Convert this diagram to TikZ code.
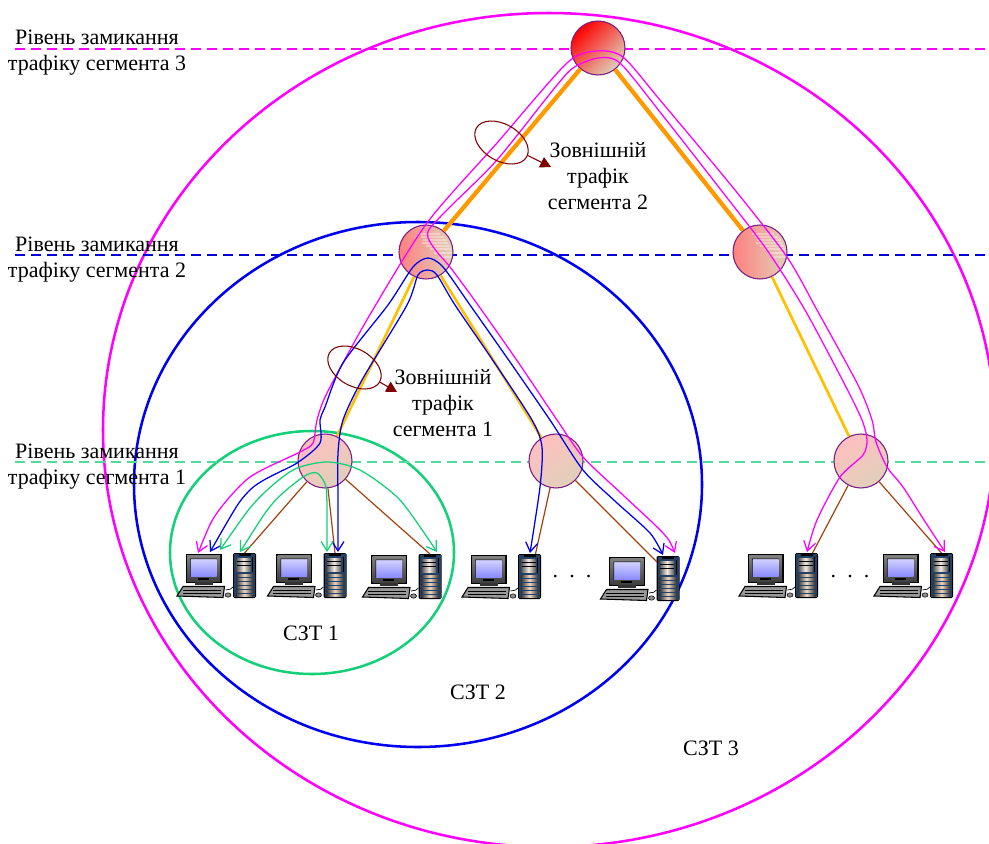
\documentclass[tikz,border=0pt]{standalone}
\usepackage{fontspec}
\setmainfont{Liberation Serif}
\usetikzlibrary{arrows.meta,positioning,shapes.geometric}
\definecolor{magLine}{RGB}{255,0,255}
\definecolor{bluLine}{RGB}{0,0,240}
\definecolor{grnLine}{RGB}{20,208,120}
\definecolor{ordLine}{RGB}{255,153,0}
\definecolor{yelLine}{RGB}{255,192,0}
\definecolor{brnLine}{RGB}{165,65,15}
\definecolor{rimLine}{RGB}{120,30,130}
\definecolor{loopLine}{RGB}{125,0,0}
\definecolor{towerBlue}{RGB}{35,65,100}
\definecolor{swTan}{RGB}{224,208,186}
\tikzstyle{lbl} = [align=center, inner sep=0, font=\fontsize{16.5}{19.5}\selectfont]
\tikzstyle{sw} = [circle, draw=rimLine, line width=0.8pt, minimum size=40.5pt, inner sep=0]
\tikzstyle{swTop} = [sw, top color=red, bottom color=swTan, shading angle=45]
\tikzstyle{swMid} = [sw, left color=red!50, right color=swTan]
\tikzstyle{swLow} = [sw, top color=red!25, bottom color=swTan, shading angle=35]
\tikzstyle{zone} = [line width=1.9pt]
\tikzstyle{lvl} = [dash pattern=on 7.5pt off 4.5pt]
\tikzstyle{tr} = [line width=0.95pt, smooth, tension=0.45, {Straight Barb[length=7pt,width=9pt]}-{Straight Barb[length=7pt,width=9pt]}]
\tikzstyle{loopy} = [ellipse, draw=loopLine, line width=0.8pt, inner sep=0, minimum width=43.5pt, minimum height=27.5pt, rotate=-30]
\tikzstyle{loopArrow} = [draw=loopLine, line width=0.8pt, -{Triangle[length=8pt,width=8.5pt]}]
\tikzset{
	pcunit/.pic={
		% monitor
		\fill[black] (-59,1) rectangle (-23,29.5);
		\shade[top color=black!50, bottom color=black!75] (-57.5,2.5) rectangle (-24.5,28);
		\shade[top color=blue!18, bottom color=blue!45] (-54,6) rectangle (-28,23);
		\fill[black] (-54.5,5.5) -- (-27.5,5.5) -- (-27.5,6) -- (-54,6) -- (-54,23.5) -- (-54.5,23.5) -- cycle;
		\fill[black] (-47,25) rectangle (-36,26.5);
		\fill[black!80] (-50,29) rectangle (-32,32);
		% keyboard
		\fill[black!40, draw=black, line width=0.8pt] (-67.5,43) -- (-61.5,33.5) -- (-20,33.5) -- (-21.5,44.5) -- cycle;
		\foreach \i in {37,40} \draw[black, line width=0.6pt] (-62,\i) -- (-24,\i);
		% mouse
		\draw[black, line width=0.5pt] (-19,37) .. controls (-15,36) and (-13,37) .. (-11.5,34);
		\fill[black!45, draw=black, line width=0.4pt] (-16.5,42) ellipse [x radius=3, y radius=2.2];
		% tower
		\fill[black, rounded corners=1pt] (-11.5,0) rectangle (11.5,45);
		\fill[towerBlue] (-10.5,1) rectangle (10.5,44);
		\fill[black] (-6,0.5) rectangle (6,3);
		\shade[left color=black!65, right color=black!65, middle color=white!85!brown] (-8,5) rectangle (6,18);
		\foreach \i in {8.5,12} \draw[black, line width=0.6pt] (-8,\i) -- (6,\i);
		\foreach \i in {21,25,...,41} \shade[left color=black!80, right color=black!80, middle color=white!70!brown] (-8.5,\i) rectangle (8.5,\i+2.2);
		\draw[black, line width=0.7pt] (8,4) -- (8,19);
		% connection points
		\coordinate (-top) at (0,0);
		\coordinate (-right) at (6,0);
		\coordinate (-side) at (-11,6);
	},
	swstripes/.pic={
		% pale bands of the fill
		\foreach \i/\a/\b in {-18/-8/14,-15/-5/18,-12/-3/21,-9/-4/22,-6/0/24,-3/4/25,1/8/26,5/14/25} \draw[white, opacity=0.35, line width=0.8pt] (\a,\i) -- (\b,\i);
	}
}
\begin{document}
\begin{tikzpicture}[x=0.75pt,y=-0.75pt]
		\useasboundingbox (0,0) rectangle (989,843);
		\clip (0,0) rectangle (989,843);
		% zones
		\draw[zone,magLine] (549,430) ellipse [x radius=446, y radius=417];
		\draw[zone,bluLine] (418,484.5) ellipse [x radius=284, y radius=262.5];
		\draw[zone,grnLine] (312,552.5) ellipse [x radius=142, y radius=121.5];
		
		% dashed levels
		\coordinate (d3a) at (15,49);
		\coordinate (d3b) at (985,49);
		\coordinate (d2a) at (15,255);
		\coordinate (d2b) at (985,255);
		\coordinate (d1a) at (15,462);
		\coordinate (d1b) at (985,462);
		\draw[lvl,magLine,line width=0.9pt] (d3a) -- (d3b);
		\draw[lvl,blue!85!black,line width=0.9pt] (d2a) -- (d2b);
		\draw[lvl,grnLine!75!white,line width=1.2pt] (d1a) -- (d1b);
		
		% nodes
		\node[swTop] (n3) at (598,48) {};								% top switch
		\node[swMid] (n2l) at (426,252) {};
		\node[swMid,right of=n2l,node distance=250.5pt] (n2r) {};
		\node[swLow] (n1a) at (325,461) {};
		\node[swLow,right of=n1a,node distance=173.25pt] (n1b) {};
		\node[swLow,right of=n1b,node distance=228.75pt] (n1c) {};
		\pic at (n2l) {swstripes};
		\pic at (n2r) {swstripes};
		
		% left labels
		\node[lbl] (lab3) at (97,53) {Рівень замикання\\трафіку сегмента 3};
		\node[lbl,below of=lab3,node distance=155pt] (lab2) {Рівень замикання\\трафіку сегмента 2};
		\node[lbl,below of=lab2,node distance=155pt] (lab1) {Рівень замикання\\трафіку сегмента 1};
		
		% zone names
		\node[lbl] (z1) at (311,633) {СЗТ 1};
		\node[lbl] (z2) at (478,692) {СЗТ 2};
		\node[lbl] (z3) at (711,748) {СЗТ 3};
		
		% computers
		\pic (pc1) at (244.5,553) {pcunit};
		\pic (pc2) at (335,553) {pcunit};
		\pic (pc3) at (430,554) {pcunit};
		\pic (pc4) at (529.5,554) {pcunit};
		\pic (pc5) at (668,556) {pcunit};
		\pic (pc6) at (806.5,553) {pcunit};
		\pic (pc7) at (941.5,553) {pcunit};
		\node[lbl] (dots1) at (572,577) {.\hspace{8.3pt}.\hspace{8.3pt}.};
		\node[lbl] (dots2) at (850,577) {.\hspace{8.3pt}.\hspace{8.3pt}.};
		
		% trunk links
		\draw[ordLine,line width=3.2pt] (n3) -- (n2l);
		\draw[ordLine,line width=3.2pt] (n3) -- (n2r);
		\draw[yelLine,line width=2pt] (n2l) -- (n1a);
		\draw[yelLine,line width=2pt] (n2l) -- (n1b);
		\draw[yelLine,line width=2pt] (n2r) -- (n1c);
		
		% access links
		\draw[brnLine,line width=0.9pt] (n1a) -- (pc1-top);
		\draw[brnLine,line width=0.9pt] (n1a) -- (pc2-top);
		\draw[brnLine,line width=0.9pt] (n1a) -- (pc3-top);
		\draw[brnLine,line width=0.9pt] (n1b) -- (pc4-right);
		\draw[brnLine,line width=0.9pt] (n1b) -- (pc5-side);
		\draw[brnLine,line width=0.9pt] (n1c) -- (pc6-right);
		\draw[brnLine,line width=0.9pt] (n1c) -- (pc7-top);
		
		% traffic ends
		\coordinate (mA) at (198,553);
		\coordinate (mB) at (945,552);
		\coordinate (mC) at (675,553);
		\coordinate (mD) at (807,552);
		\coordinate (bA) at (210,552);
		\coordinate (bB) at (663,555);
		\coordinate (bC) at (338,552);
		\coordinate (bD) at (530,553);
		\coordinate (gA) at (220,550);
		\coordinate (gB) at (437,552);
		\coordinate (gC) at (240,552);
		\coordinate (gD) at (327,552);
		
		% traffic of segment 3
		\draw[tr,magLine] plot coordinates {(mA) (217,513) (250,477) (300,452) (313,443) (317,420) (327,393) (368,318) (427,223) (497,143) (567,63) (597,51) (623,57) (660,100) (735,190) (787,257) (817,310) (858,385) (872,420) (876,442) (887,467) (903,487) (924,520) (mB)};
		\draw[tr,magLine] plot coordinates {(mC) (663,533) (623,495) (583,457) (557,420) (518,362) (478,305) (450,267) (437,252) (428,238) (430,228) (452,205) (497,160) (553,90) (573,68) (598,58) (620,63) (660,112) (721,190) (767,250) (805,310) (845,385) (862,420) (867,440) (863,455) (840,477) (817,520) (mD)};
		
		% traffic of segment 2
		\draw[tr,bluLine] plot coordinates {(bA) (250,490) (297,463) (320,443) (320,420) (325,407) (343,363) (388,305) (413,267) (428,258) (443,267) (470,305) (510,362) (550,420) (583,470) (616,502) (650,533) (bB)};
		\draw[tr,bluLine] plot coordinates {(bC) (338,500) (338,453) (343,420) (362,380) (407,305) (418,275) (428,270) (437,275) (455,305) (494,362) (532,420) (542,447) (540,487) (bD)};
		
		% traffic of segment 1
		\draw[tr,grnLine] plot coordinates {(gA) (257,500) (293,470) (327,462) (360,470) (400,500) (gB)};
		\draw[tr,grnLine] plot coordinates {(gC) (273,503) (303,477) (317,473) (326,487) (327,520) (gD)};
		
		% outer traffic marks
		\node[loopy] (loop2) at (501.5,142.5) {};
		\node[lbl] (ext2) at (598,176) {Зовнішній\\трафік\\сегмента 2};
		\coordinate (tip2) at (551,167);
		\draw[loopArrow] (loop2) -- (tip2);
		\node[loopy] (loop1) at (354.5,367.5) {};
		\node[lbl] (ext1) at (443,403) {Зовнішній\\трафік\\сегмента 1};
		\coordinate (tip1) at (397,392);
		\draw[loopArrow] (loop1) -- (tip1);
\end{tikzpicture}
\end{document}
